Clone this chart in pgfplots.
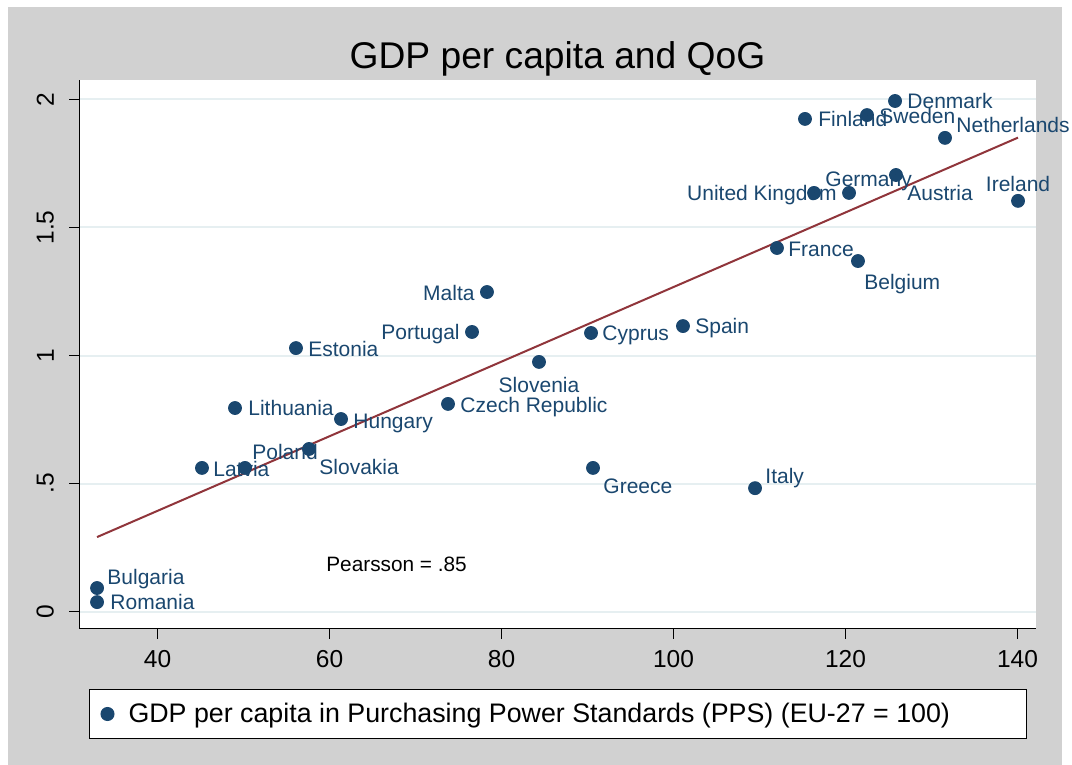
\documentclass[border=0pt]{standalone}
\usepackage{pgfplots}
\pgfplotsset{compat=1.18}
\usepackage{fontspec}
\setmainfont{Liberation Sans}
\definecolor{navy}{HTML}{1A476F}
\definecolor{maroon}{HTML}{90353B}
\definecolor{bggray}{HTML}{D1D1D1}
\definecolor{gridc}{HTML}{E6EFF1}

\pgfplotstableread{
name x y dx dy
Denmark 125.76 1.994 12 0
Sweden 122.50 1.939 12 -1
Finland 115.29 1.924 13 0
Netherlands 131.57 1.850 11 13
Austria 125.87 1.705 11 -18
Germany 116.34 1.635 11 14
France 112.03 1.420 11 -1
Belgium 121.45 1.369 6 -21
Cyprus 90.41 1.088 11 0
Spain 101.10 1.115 12 0
Estonia 56.10 1.029 12 -1
{Czech Republic} 73.78 0.811 12 -1
Lithuania 49.01 0.795 13 0
Hungary 61.34 0.752 12 -2
Slovakia 57.62 0.635 10 -18
Poland 50.17 0.561 7 16
Latvia 45.17 0.561 11 -1
Greece 90.64 0.561 10 -18
Italy 109.48 0.482 10 12
Bulgaria 32.97 0.092 10 11
Romania 32.97 0.037 13 0
}\tblW

\pgfplotstableread{
name x y dx dy
{United Kingdom} 120.41 1.635 -12 0
Malta 78.31 1.248 -12 -1
Portugal 76.57 1.092 -12 0
}\tblE

\pgfplotstableread{
name x y dx dy
Ireland 140.06 1.604 0 17
Slovenia 84.36 0.975 0 -23
}\tblC

\pgfplotsset{
  lblW/.style={every node near coord/.append style={anchor=base west}},
  lblE/.style={every node near coord/.append style={anchor=base east}},
  lblC/.style={every node near coord/.append style={anchor=base}},
  lbl/.style={forget plot, only marks, mark=*, mark size=0pt, mark options={draw=none, fill=none},
  nodes near coords, point meta=explicit symbolic,
  visualization depends on={\thisrow{dx} \as \ldx},
  visualization depends on={\thisrow{dy} \as \ldy},
  every node near coord/.append style={inner sep=0pt, text=navy,
    font=\fontsize{10.5}{12}\selectfont, xshift=\ldx*0.5pt, yshift=(\ldy-7.5)*0.5pt}},
}

\begin{document}
\begin{tikzpicture}
\path[use as bounding box] (0,0) rectangle (536pt,382.5pt);
\fill[white] (0,0) rectangle (536pt,382.5pt);
\fill[bggray] (4pt,0) rectangle (531pt,379pt);
\node[anchor=base, font=\fontsize{18.6}{22}\selectfont] at (278.75pt,348pt) {GDP per capita and QoG};
\begin{axis}[
  at={(39.5pt,68pt)}, anchor=south west,
  width=478.5pt, height=274.5pt, scale only axis,
  xmin=30.87, xmax=142.15, ymin=-0.068, ymax=2.076,
  clip=false,
  axis background/.style={fill=white},
  axis x line*=bottom, axis y line*=left,
  axis line style={black, line width=0.5pt, -},
  xtick={40,60,80,100,120,140},
  xticklabels={40,60,80,100,120,140},
  ytick={0,0.5,1,1.5,2},
  yticklabels={0,.5,1,1.5,2},
  tick align=outside,
  major tick length=5pt,
  tick style={black, line width=0.5pt},
  ymajorgrids,
  grid style={gridc, line width=1pt},
  xticklabel style={font=\fontsize{12.25}{14}\selectfont, yshift=-2pt},
  yticklabel style={font=\fontsize{12.25}{14}\selectfont, rotate=90, anchor=south},
  yticklabel shift=4pt,
  legend style={at={(0.01045,-0.1093)}, anchor=north west, draw=black, line width=0.5pt,
    fill=white, inner sep=0pt, row sep=0pt, column sep=0pt,
    font=\fontsize{13.4}{16}\selectfont, nodes={inner sep=0pt, draw=none}},
  legend cell align=left,
  legend image code/.code={\path[draw=none] (0pt,-12.25pt) rectangle (19.5pt,12.25pt); \draw[#1] plot coordinates {(9pt,0pt)};},
]
\addplot[maroon, line width=1pt, forget plot] coordinates {(32.97,0.291) (140.06,1.851)};

\addplot[only marks, mark=*, mark size=3.25pt, navy, mark options={draw=navy, fill=navy}]
  coordinates {
  (125.76,1.994) (122.50,1.939) (115.29,1.924) (131.57,1.850) (125.87,1.705)
  (116.34,1.635) (120.41,1.635) (140.06,1.604) (112.03,1.420) (121.45,1.369)
  (78.31,1.248) (76.57,1.092) (90.41,1.088) (101.10,1.115) (56.10,1.029)
  (84.36,0.975) (73.78,0.811) (49.01,0.795) (61.34,0.752) (57.62,0.635)
  (50.17,0.561) (45.17,0.561) (90.64,0.561) (109.48,0.482) (32.97,0.092) (32.97,0.037)
  };
\addlegendentry{\makebox[449pt][l]{GDP per capita in Purchasing Power Standards (PPS) (EU-27 = 100)}}

\addplot[lbl, lblW] table[x=x, y=y, meta=name] {\tblW};
\addplot[lbl, lblE] table[x=x, y=y, meta=name] {\tblE};
\addplot[lbl, lblC] table[x=x, y=y, meta=name] {\tblC};

\node[anchor=base, font=\fontsize{10.4}{12}\selectfont] at (axis cs:67.8,0.158) {Pearsson = .85};
\end{axis}
\end{tikzpicture}
\end{document}
